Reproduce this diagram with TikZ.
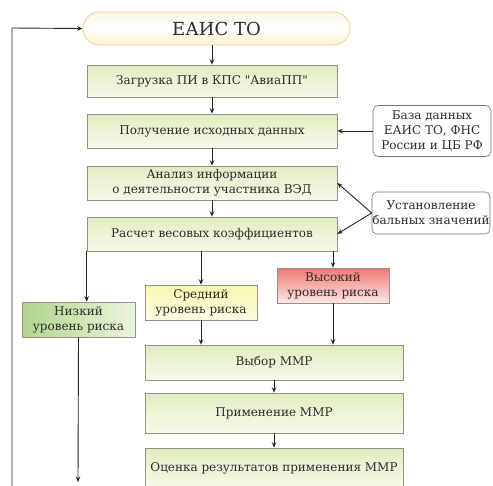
\documentclass[tikz,border=0pt]{standalone}
\usepackage{fontspec}
\setmainfont{DejaVu Serif}[Ligatures=NoCommon]
\newfontfamily\diagfont{DejaVu Serif}
\usetikzlibrary{arrows.meta,shapes.misc,calc}
\definecolor{txt}{RGB}{45,45,45}
\definecolor{bord}{RGB}{150,145,130}
\definecolor{gtop}{RGB}{222,236,190}
\definecolor{gbot}{RGB}{246,249,232}
\tikzset{
  every node/.style={text=txt, font=\diagfont\fontsize{12}{15}\selectfont, align=center, inner sep=0pt},
  gbox/.style={draw=bord, line width=0.6pt, top color=gtop, bottom color=gbot, middle color=gbot!60!gtop},
  sidebox/.style={draw=bord!80!black, line width=0.6pt, rounded corners=5pt, fill=white},
  conn/.style={draw=black!85, line width=0.9pt, -{Stealth[length=5.5pt,width=4.5pt]}},
  line/.style={draw=black!85, line width=0.9pt}
}
\begin{document}
\begin{tikzpicture}[x=1pt,y=-1pt]
\useasboundingbox (0,0) rectangle (493,485);
\clip (0,0) rectangle (493,485);
\fill[white] (0,0) rectangle (493,485);
% start terminal
\node[draw={rgb,255:red,236;green,208;blue,150}, line width=0.8pt, rounded rectangle, minimum width=267pt, minimum height=33pt,
  top color={rgb,255:red,252;green,246;blue,228}, bottom color={rgb,255:red,253;green,240;blue,205},
  middle color=white, font=\diagfont\fontsize{18}{22}\selectfont] (eais) at (216.5,28.5) {ЕАИС ТО};
% main chain
\node[gbox, minimum width=250pt, minimum height=32pt] (zag) at (212,81) {Загрузка ПИ в КПС \char"22 АвиаПП\char"22};
\node[gbox, minimum width=250pt, minimum height=34pt] (pol) at (212,131) {Получение исходных данных};
\node[gbox, minimum width=250pt, minimum height=34pt] (anal) at (212,183) {Анализ информации\\о деятельности участника ВЭД};
\node[gbox, minimum width=250pt, minimum height=34pt] (rasch) at (212,234) {Расчет весовых коэффициентов};
% side boxes
\node[sidebox, minimum width=118pt, minimum height=51pt] (baza) at (432,131) {База данных\\ЕАИС ТО, ФНС\\России и ЦБ РФ};
\node[sidebox, minimum width=118pt, minimum height=42pt] (ustan) at (431,213) {Установление\\бальных значений};
% risk levels
\node[draw=bord, line width=0.6pt, minimum width=113pt, minimum height=35pt,
  left color={rgb,255:red,176;green,214;blue,140}, right color={rgb,255:red,236;green,244;blue,220}] (nizk) at (78.5,319.5) {Низкий\\уровень риска};
\node[draw=bord, line width=0.6pt, minimum width=112pt, minimum height=35pt,
  top color={rgb,255:red,250;green,246;blue,175}, bottom color={rgb,255:red,253;green,252;blue,228}] (sred) at (201,302.5) {Средний\\уровень риска};
\node[draw=bord, line width=0.6pt, minimum width=112pt, minimum height=35pt,
  top color={rgb,255:red,240;green,120;blue,115}, bottom color={rgb,255:red,252;green,232;blue,228}] (vys) at (333,285.5) {Высокий\\уровень риска};
% measures
\node[gbox, minimum width=258pt, minimum height=35pt] (vyb) at (274,362.5) {Выбор ММР};
\node[gbox, minimum width=258pt, minimum height=40pt] (prim) at (274,413) {Применение ММР};
\node[gbox, minimum width=258pt, minimum height=40pt] (ocen) at (274,468) {Оценка результатов применения ММР};
% coordinates
\coordinate (bot) at (78,482);
\coordinate (fbstart) at (12,490);
\coordinate (fbtop) at (12,28);
% connectors
\draw[conn] (eais.south -| zag.north) -- (zag.north);
\draw[conn] (zag) -- (pol);
\draw[conn] (pol) -- (anal);
\draw[conn] (anal) -- (rasch);
\draw[conn] (baza.west) -- (pol.east);
\draw[conn] (ustan.west) -- (anal.east);
\draw[conn] (ustan.west) -- (rasch.east);
\draw[conn] (rasch.south west) -- (rasch.south west |- nizk.north);
\draw[conn] (sred.north |- rasch.south) -- (sred.north);
\draw[conn] (vys.north |- rasch.south) -- (vys.north);
\draw[conn] (sred.south) -- (sred.south |- vyb.north);
\draw[conn] (vys.south) -- (vys.south |- vyb.north);
\draw[conn] (vyb) -- (prim);
\draw[conn] (prim) -- (ocen);
\draw[conn] (nizk.south) -- (bot);
\draw[conn] (fbstart) -- (fbtop) -- (eais.west);
\end{tikzpicture}
\end{document}
